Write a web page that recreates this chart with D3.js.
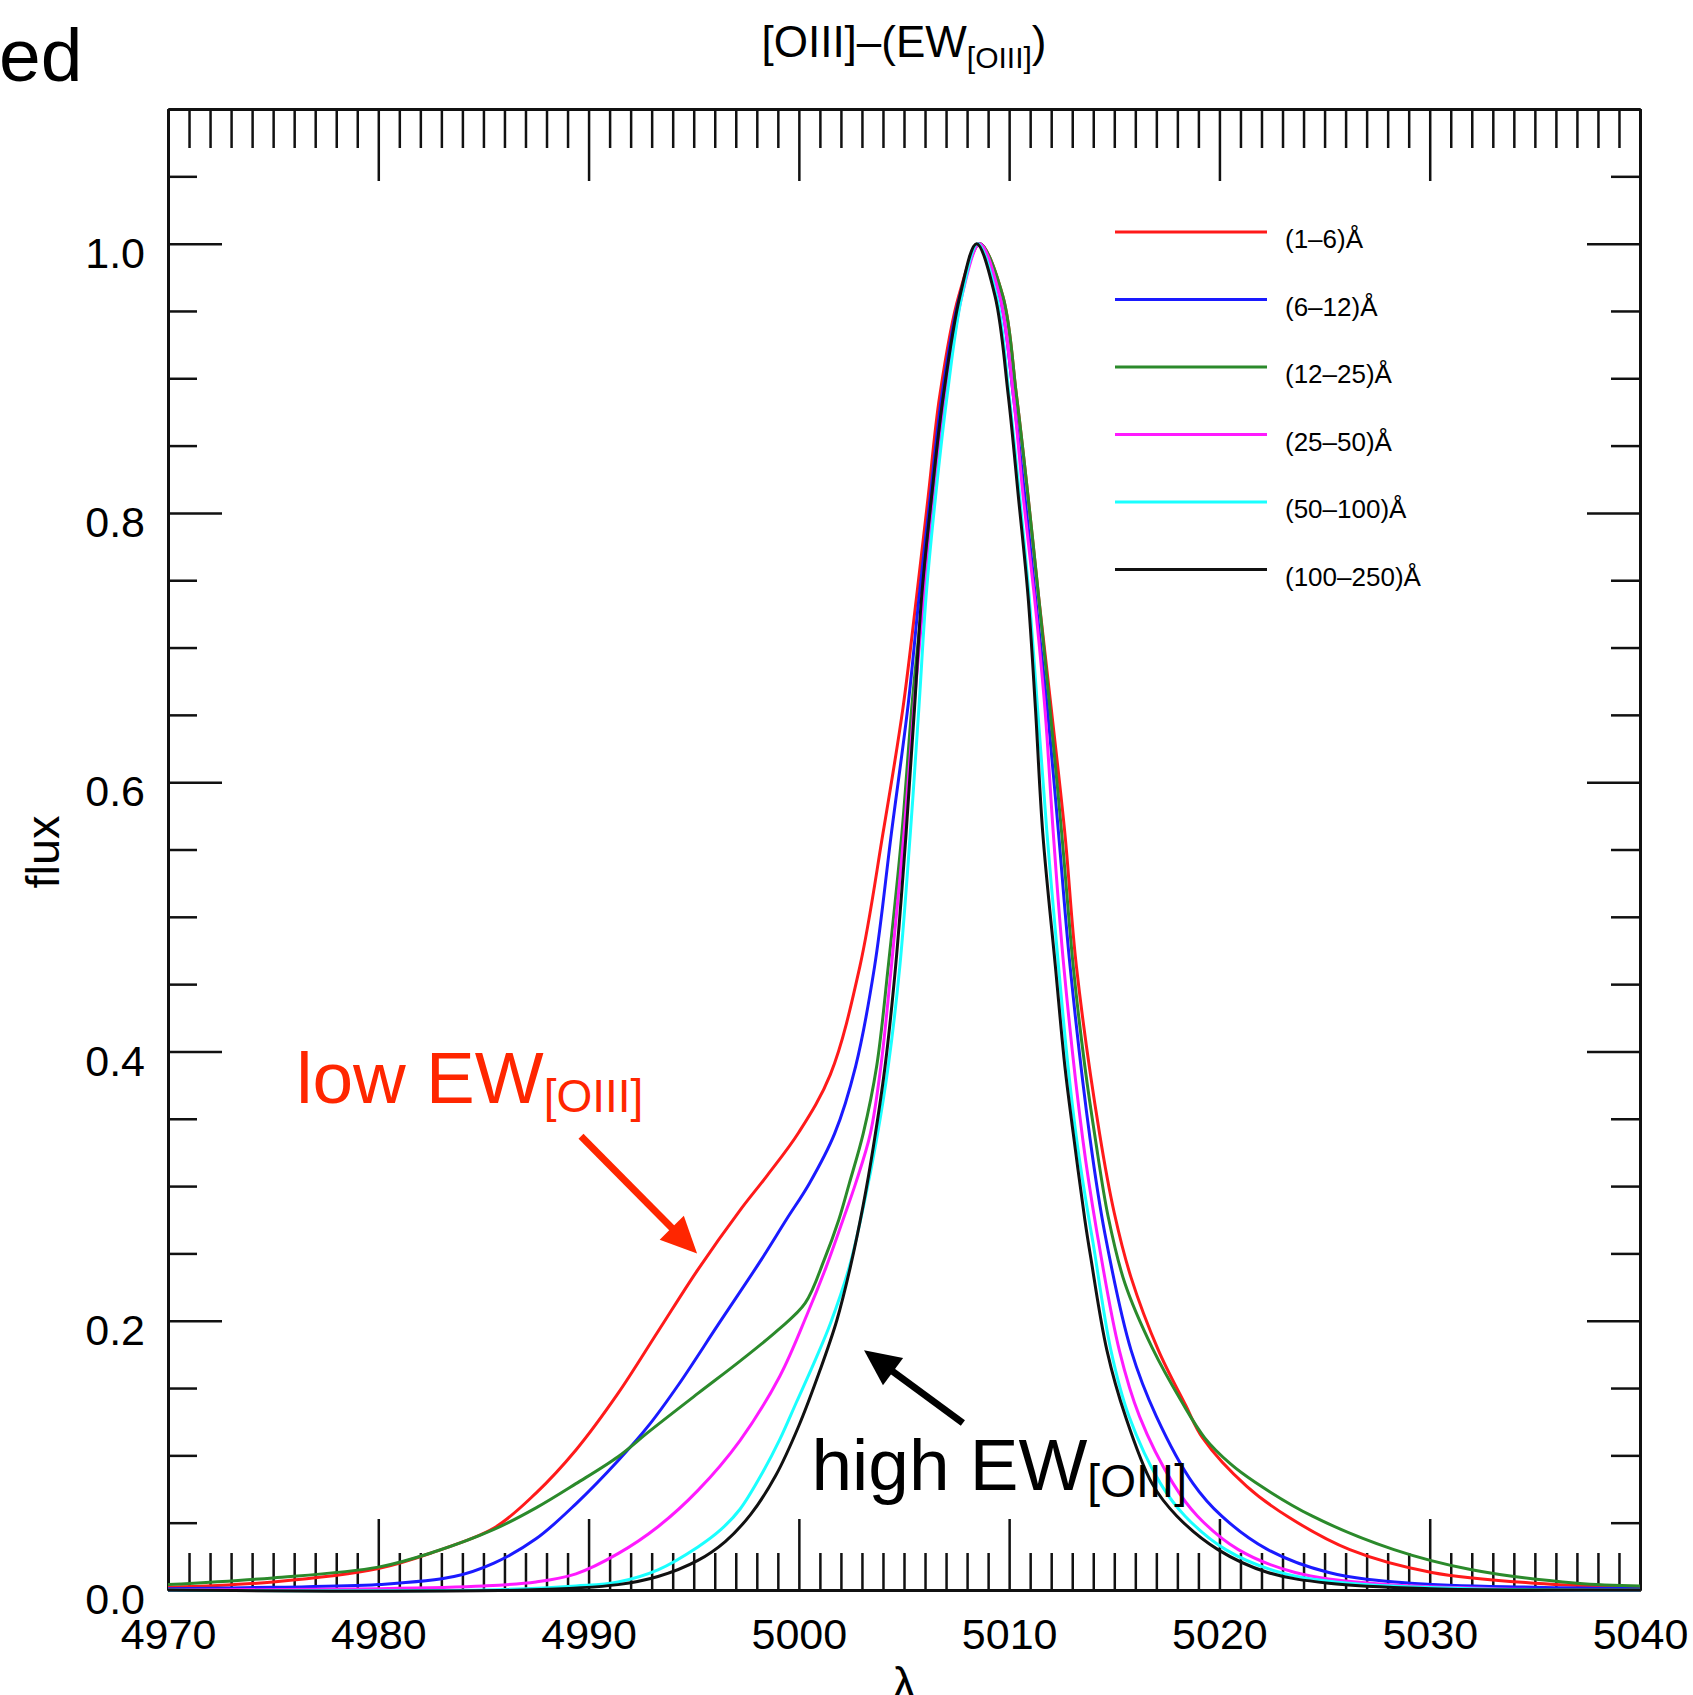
<!DOCTYPE html>
<html>
<head>
<meta charset="utf-8">
<script src="https://d3js.org/d3.v7.min.js"></script>
<style>
  body { margin: 0; background: #fff; }
  text { font-family: "Liberation Sans", Arial, Helvetica, sans-serif; }
  .axis path { stroke: #111; stroke-width: 3; }
  .axis line { stroke: #111; stroke-width: 2.5; }
  .axis text { font-size: 43px; fill: #000; }
</style>
</head>
<body>
<script>

// ---- data: [wavelength, normalised flux] ----
var ew1_6 = [[4970,0.002],[4975,0.006],[4980,0.016],[4982.6,0.028],[4985.5,0.046],[4987.5,0.072],[4989.4,0.104],[4991.4,0.146],[4993.3,0.192],[4995.2,0.238],[4997.2,0.282],[4998.5,0.308],[5000.0,0.340],[5001.5,0.383],[5002.9,0.463],[5004.0,0.562],[5004.95,0.655],[5005.6,0.738],[5006.15,0.812],[5006.7,0.887],[5007.6,0.961],[5008.6,1.0],[5009.7,0.961],[5010.35,0.887],[5010.9,0.812],[5011.4,0.738],[5012.0,0.655],[5012.65,0.562],[5013.2,0.463],[5014.3,0.339],[5015.0,0.280],[5015.8,0.232],[5017.1,0.178],[5018.4,0.137],[5019.2,0.113],[5021.3,0.077],[5023.3,0.054],[5026.2,0.030],[5030.1,0.013],[5035,0.005],[5040,0.002]];

var ew6_12 = [[4970,0.001],[4975,0.002],[4980,0.004],[4983.6,0.010],[4985.5,0.020],[4987.5,0.038],[4989.4,0.064],[4991.4,0.096],[4992.9,0.123],[4994.3,0.153],[4996.2,0.198],[4998.2,0.245],[4999.4,0.275],[5000.5,0.302],[5001.7,0.339],[5002.7,0.389],[5003.6,0.463],[5004.4,0.562],[5005.2,0.658],[5005.72,0.738],[5006.25,0.812],[5006.8,0.887],[5007.65,0.961],[5008.6,1.0],[5009.55,0.961],[5010.2,0.887],[5010.75,0.812],[5011.25,0.738],[5011.8,0.658],[5012.35,0.562],[5012.9,0.463],[5013.85,0.335],[5014.55,0.265],[5015.8,0.178],[5017.0,0.129],[5018.75,0.079],[5020.1,0.055],[5022.3,0.030],[5025.2,0.013],[5029.1,0.005],[5035,0.002],[5040,0.001]];

var ew12_25 = [[4970,0.004],[4975,0.009],[4980,0.017],[4982.6,0.028],[4985.5,0.045],[4987.5,0.061],[4989.4,0.079],[4991.4,0.099],[4992.9,0.118],[4995.2,0.146],[4997.2,0.170],[4999.0,0.193],[5000.3,0.213],[5001.2,0.245],[5001.9,0.275],[5002.4,0.302],[5003.06,0.339],[5003.7,0.389],[5004.25,0.463],[5004.9,0.562],[5005.4,0.661],[5005.9,0.738],[5006.4,0.812],[5006.95,0.887],[5007.7,0.961],[5008.6,1.0],[5009.7,0.961],[5010.35,0.887],[5010.9,0.812],[5011.4,0.738],[5011.9,0.661],[5012.5,0.562],[5013.05,0.463],[5013.6,0.389],[5014.1,0.335],[5014.7,0.278],[5015.5,0.228],[5016.8,0.180],[5018.2,0.140],[5019.3,0.113],[5020.5,0.094],[5021.7,0.080],[5024.4,0.055],[5028.3,0.030],[5032.0,0.015],[5037,0.005],[5040,0.003]];

var ew25_50 = [[4970,0.0],[4980,0.001],[4985,0.003],[4987.5,0.006],[4989.4,0.012],[4991.4,0.027],[4993.3,0.047],[4995.2,0.074],[4997.2,0.111],[4999.1,0.159],[5000.4,0.205],[5001.3,0.240],[5002.1,0.275],[5002.7,0.302],[5003.4,0.339],[5003.9,0.389],[5004.4,0.463],[5005.0,0.562],[5005.5,0.661],[5005.95,0.738],[5006.45,0.812],[5007.0,0.887],[5007.75,0.961],[5008.6,1.0],[5009.55,0.961],[5010.2,0.887],[5010.67,0.812],[5011.2,0.738],[5011.7,0.655],[5012.1,0.562],[5012.6,0.463],[5013.5,0.335],[5014.15,0.268],[5015.24,0.178],[5016.2,0.129],[5017.8,0.079],[5018.95,0.055],[5020.9,0.030],[5023.6,0.013],[5027.2,0.005],[5033,0.001],[5040,0.0]];

var ew50_100 = [[4970,0.0],[4985,0.0],[4989.4,0.003],[4991.4,0.006],[4993.3,0.015],[4995.2,0.032],[4996.3,0.045],[4997.2,0.060],[4998.3,0.088],[4999.1,0.112],[4999.9,0.140],[5000.7,0.168],[5001.5,0.198],[5002.4,0.240],[5003.1,0.287],[5003.7,0.335],[5004.25,0.389],[5004.8,0.463],[5005.3,0.562],[5005.72,0.658],[5006.05,0.738],[5006.5,0.812],[5007.05,0.887],[5007.75,0.961],[5008.5,1.0],[5009.4,0.961],[5010.0,0.887],[5010.5,0.812],[5010.95,0.738],[5011.35,0.655],[5011.8,0.562],[5012.35,0.463],[5012.8,0.389],[5013.25,0.330],[5013.8,0.275],[5014.0,0.257],[5014.84,0.178],[5015.7,0.129],[5017.2,0.079],[5018.36,0.055],[5020.3,0.030],[5022.9,0.013],[5026.2,0.005],[5032,0.001],[5040,0.0]];

var ew100_250 = [[4970,0.0],[4987,0.0],[4991.4,0.004],[4993.3,0.010],[4995.2,0.022],[4996.5,0.036],[4997.7,0.056],[4998.9,0.085],[5000.0,0.122],[5001.0,0.163],[5001.8,0.200],[5002.45,0.240],[5003.05,0.285],[5003.55,0.330],[5004.1,0.389],[5004.6,0.463],[5005.1,0.562],[5005.5,0.655],[5005.84,0.738],[5006.31,0.812],[5006.87,0.887],[5007.66,0.961],[5008.45,1.0],[5009.33,0.961],[5009.96,0.887],[5010.44,0.812],[5010.9,0.738],[5011.25,0.655],[5011.6,0.562],[5012.2,0.463],[5012.65,0.389],[5013.05,0.339],[5013.6,0.275],[5013.87,0.248],[5014.65,0.178],[5015.53,0.129],[5016.8,0.079],[5017.97,0.055],[5019.93,0.030],[5022.3,0.013],[5025.2,0.005],[5030,0.001],[5040,0.0]];

var seriesNames = ["(1\u20136)\u00c5", "(6\u201312)\u00c5", "(12\u201325)\u00c5", "(25\u201350)\u00c5", "(50\u2013100)\u00c5", "(100\u2013250)\u00c5"];
var seriesData = [ew1_6, ew6_12, ew12_25, ew25_50, ew50_100, ew100_250];
var seriesColors = ["#ff1a1a", "#1a1aff", "#2b8a2b", "#ff1aff", "#1affff", "#111111"];

var xMajor = [4970, 4980, 4990, 5000, 5010, 5020, 5030, 5040];
var yMajor = [0, 0.2, 0.4, 0.6, 0.8, 1.0];

// annotation anchors, in data units
var lowLabelAt = [4976.1, 0.362];
var lowArrow = [[4989.64, 0.337], [4995.16, 0.250]];
var highLabelAt = [5000.6, 0.074];
var highArrow = [[5007.8, 0.124], [5003.1, 0.178]];

// ---- layout ----
var W = 1693, H = 1695;
var margin = {top: 109, right: 53, bottom: 105, left: 168};

var svg = d3.select("body").append("svg")
    .attr("width", W).attr("height", H);

var x = d3.scaleLinear().domain([4970, 5040]).range([margin.left, W - margin.right]);
var y = d3.scaleLinear().domain([0, 1.1]).range([H - margin.bottom, margin.top]);

var xMinor = d3.range(4970, 5041, 1).filter(function(d){ return d % 10 !== 0; });
var yMinor = d3.range(0, 22).map(function(i){ return +(i * 0.05).toFixed(2); })
    .filter(function(d){ return Math.round(d * 100) % 20 !== 0; });

// minor ticks first, majors (with frame) on top
svg.append("g").attr("class", "axis")
    .attr("transform", "translate(0," + y(0) + ")")
    .call(d3.axisBottom(x).tickValues(xMinor).tickSize(-37).tickSizeOuter(0).tickFormat(""));
svg.append("g").attr("class", "axis")
    .attr("transform", "translate(0," + y(1.1) + ")")
    .call(d3.axisTop(x).tickValues(xMinor).tickSize(-39).tickSizeOuter(0).tickFormat(""));
svg.append("g").attr("class", "axis")
    .attr("transform", "translate(" + x(4970) + ",0)")
    .call(d3.axisLeft(y).tickValues(yMinor).tickSize(-29).tickSizeOuter(0).tickFormat(""));
svg.append("g").attr("class", "axis")
    .attr("transform", "translate(" + x(5040) + ",0)")
    .call(d3.axisRight(y).tickValues(yMinor).tickSize(-29).tickSizeOuter(0).tickFormat(""));

svg.append("g").attr("class", "axis")
    .attr("transform", "translate(0," + y(0) + ")")
    .call(d3.axisBottom(x).tickValues(xMajor).tickSize(-71).tickSizeOuter(0)
          .tickPadding(28).tickFormat(d3.format("d")));
svg.append("g").attr("class", "axis")
    .attr("transform", "translate(0," + y(1.1) + ")")
    .call(d3.axisTop(x).tickValues(xMajor).tickSize(-72).tickSizeOuter(0).tickFormat(""));
var yAx = svg.append("g").attr("class", "axis")
    .attr("transform", "translate(" + x(4970) + ",0)")
    .call(d3.axisLeft(y).tickValues(yMajor).tickSize(-54).tickSizeOuter(0)
          .tickPadding(23).tickFormat(d3.format(".1f")));
yAx.selectAll("text").attr("dy", "0.55em");
svg.append("g").attr("class", "axis")
    .attr("transform", "translate(" + x(5040) + ",0)")
    .call(d3.axisRight(y).tickValues(yMajor).tickSize(-53).tickSizeOuter(0).tickFormat(""));

// ---- curves ----
var line = d3.line()
    .x(function(d){ return x(d[0]); })
    .y(function(d){ return y(d[1]); })
    .curve(d3.curveCatmullRom.alpha(0.5));

svg.append("g").selectAll("path.spec")
    .data(seriesData)
    .join("path")
    .attr("class", "spec")
    .attr("d", line)
    .attr("fill", "none")
    .attr("stroke", function(d, i){ return seriesColors[i]; })
    .attr("stroke-width", 3)
    .attr("stroke-linejoin", "round");

// ---- legend ----
var leg = svg.append("g");
seriesNames.forEach(function(name, i){
    var yy = 232 + i * 67.5;
    leg.append("line")
        .attr("x1", 1115).attr("x2", 1267).attr("y1", yy).attr("y2", yy)
        .attr("stroke", seriesColors[i]).attr("stroke-width", 3);
    leg.append("text")
        .attr("x", 1285).attr("y", yy + 16)
        .style("font-size", "26px")
        .text(name);
});

// ---- titles ----
var title = svg.append("text")
    .attr("x", (x(4970) + x(5040)) / 2).attr("y", 57)
    .attr("text-anchor", "middle")
    .style("font-size", "44px");
title.append("tspan").text("[OIII]\u2013(EW");
title.append("tspan").attr("dy", 11).style("font-size", "30px").text("[OIII]");
title.append("tspan").attr("dy", -11).text(")");

svg.append("text")
    .attr("transform", "translate(59,852) rotate(-90)")
    .attr("text-anchor", "middle")
    .style("font-size", "47px")
    .text("flux");

svg.append("text")
    .attr("x", (x(4970) + x(5040)) / 2).attr("y", 1700)
    .attr("text-anchor", "middle")
    .style("font-size", "47px")
    .text("\u03bb");

svg.append("text")
    .attr("x", -1).attr("y", 81)
    .style("font-size", "75px")
    .text("ed");

// ---- annotations ----
function arrow(pts, color) {
    var p0 = [x(pts[0][0]), y(pts[0][1])], p1 = [x(pts[1][0]), y(pts[1][1])];
    var dx = p1[0] - p0[0], dy = p1[1] - p0[1], L = Math.hypot(dx, dy);
    var ux = dx / L, uy = dy / L, hl = 36, hw = 17;
    var bx = p1[0] - ux * hl, by = p1[1] - uy * hl;
    svg.append("line")
        .attr("x1", p0[0]).attr("y1", p0[1])
        .attr("x2", bx + ux * 2).attr("y2", by + uy * 2)
        .attr("stroke", color).attr("stroke-width", 7);
    svg.append("path")
        .attr("d", "M" + p1[0] + "," + p1[1] +
                   "L" + (bx - uy * hw) + "," + (by + ux * hw) +
                   "L" + (bx + uy * hw) + "," + (by - ux * hw) + "Z")
        .attr("fill", color);
}

var lowTxt = svg.append("text")
    .attr("x", x(lowLabelAt[0])).attr("y", y(lowLabelAt[1]))
    .style("font-size", "73px").attr("fill", "#ff2600");
lowTxt.append("tspan").text("low EW");
lowTxt.append("tspan").attr("dy", 9).style("font-size", "46px").text("[OIII]");
arrow(lowArrow, "#ff2600");

var highTxt = svg.append("text")
    .attr("x", x(highLabelAt[0])).attr("y", y(highLabelAt[1]))
    .style("font-size", "73px").attr("fill", "#000");
highTxt.append("tspan").text("high EW");
highTxt.append("tspan").attr("dy", 7).style("font-size", "46px").text("[OIII]");
arrow(highArrow, "#000");

</script>
</body>
</html>
